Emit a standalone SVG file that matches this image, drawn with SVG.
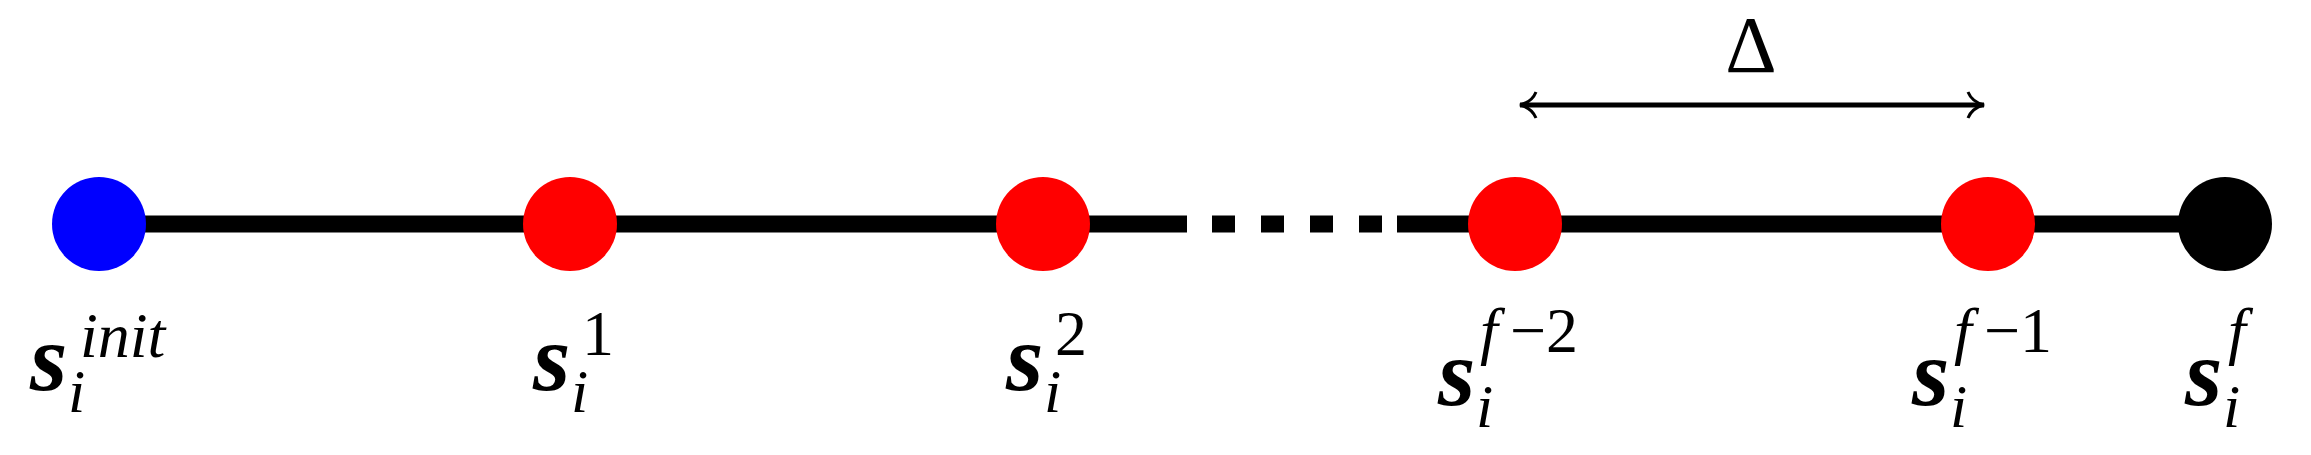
<svg xmlns="http://www.w3.org/2000/svg" width="2311" height="455" viewBox="0 0 2311 455">
<style>
.s{font-family:"Liberation Serif",serif;font-style:italic;font-weight:bold;font-size:96px}
.sub{font-family:"Liberation Serif",serif;font-style:italic;font-size:62px}
.sup{font-family:"Liberation Serif",serif;font-size:64px}
.supi{font-family:"Liberation Serif",serif;font-style:italic;font-size:64px}
</style>
<defs>
<marker id="ah" viewBox="0 0 20 30" refX="18" refY="15" markerWidth="20" markerHeight="30" markerUnits="userSpaceOnUse" orient="auto-start-reverse">
<path d="M2,2 Q6,12 18,15 Q6,18 2,28" fill="none" stroke="#000" stroke-width="3"/>
</marker>
</defs>
<rect width="2311" height="455" fill="#fff"/>
<g id="connectors" stroke="#000" stroke-width="17" fill="none">
<line x1="99" y1="224" x2="1187" y2="224"/>
<line x1="1212" y1="224" x2="1384" y2="224" stroke-dasharray="23 26"/>
<line x1="1397" y1="224" x2="2225" y2="224"/>
<line x1="1520" y1="105" x2="1984" y2="105" stroke-width="5" marker-start="url(#ah)" marker-end="url(#ah)"/>
</g>
<text x="1751" y="72" text-anchor="middle" font-family="Liberation Serif,serif" font-size="80">Δ</text>
<g id="n0"><circle cx="99" cy="224" r="47" fill="#0000ff"/>
<text x="30" y="390" class="s">s</text><text x="68" y="412" class="sub">i</text><text x="80" y="357" class="supi">init</text></g>
<g id="n1"><circle cx="570" cy="224" r="47" fill="#ff0000"/>
<text x="533" y="390" class="s">s</text><text x="571" y="412" class="sub">i</text><text x="582" y="355" class="sup">1</text></g>
<g id="n2"><circle cx="1043" cy="224" r="47" fill="#ff0000"/>
<text x="1006" y="390" class="s">s</text><text x="1044" y="412" class="sub">i</text><text x="1055" y="355" class="sup">2</text></g>
<g id="n3"><circle cx="1515" cy="224" r="47" fill="#ff0000"/>
<text x="1438" y="405" class="s">s</text><text x="1476" y="427" class="sub">i</text><text x="1480" y="352" class="supi">f</text><text x="1510" y="352" class="sup">−2</text></g>
<g id="n4"><circle cx="1988" cy="224" r="47" fill="#ff0000"/>
<text x="1912" y="405" class="s">s</text><text x="1950" y="427" class="sub">i</text><text x="1954" y="352" class="supi">f</text><text x="1984" y="352" class="sup">−1</text></g>
<g id="n5"><circle cx="2225" cy="224" r="47" fill="#000"/>
<text x="2185" y="405" class="s">s</text><text x="2223" y="427" class="sub">i</text><text x="2228" y="352" class="supi">f</text></g>
</svg>
